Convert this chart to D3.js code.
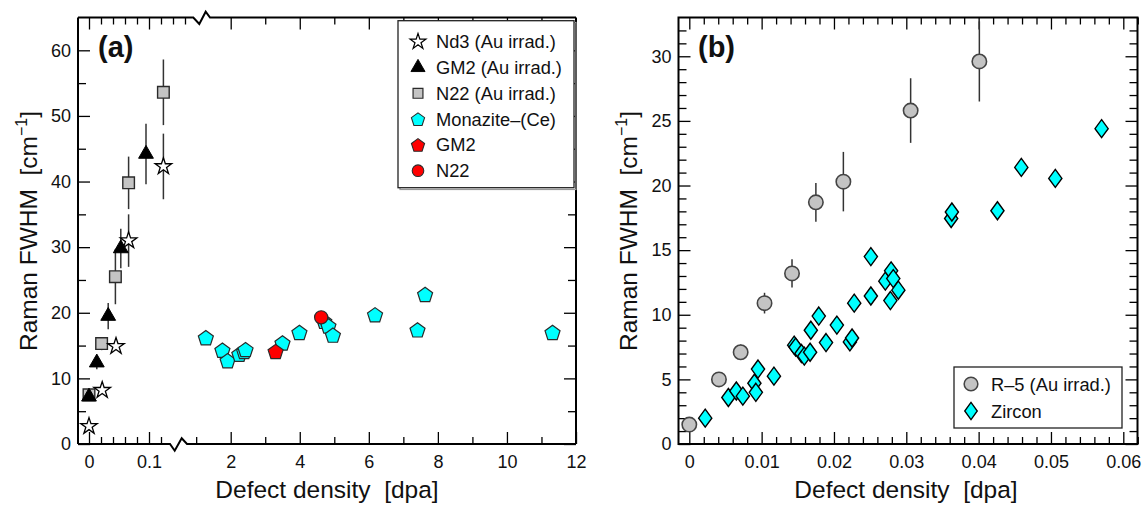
<!DOCTYPE html>
<html>
<head>
<meta charset="utf-8">
<script src="https://cdn.jsdelivr.net/npm/d3@7"></script>
<style>
  html, body { margin: 0; padding: 0; background: #fff; }
  svg { display: block; font-family: "Liberation Sans", Arial, Helvetica, sans-serif; }
  text { white-space: pre; }
</style>
</head>
<body>
<svg id="chart" width="1146" height="505"></svg>
<script>
// ---------- Panel (a): Raman FWHM vs defect density (monazite) ----------
// Au-irradiated series: x = dpa, y = FWHM (cm^-1), e = half-length of error bar
const nd3X = [0, 0.022, 0.045, 0.066, 0.124];
const nd3Y = [2.7, 8.2, 14.9, 31.0, 42.3];
const nd3E = [0, 0, 0, 4, 5];

const gm2IrrX = [0, 0.013, 0.032, 0.053, 0.095];
const gm2IrrY = [7.2, 12.4, 19.5, 29.8, 44.2];
const gm2IrrE = [0, 1, 2, 3, 4.6];

const n22IrrX = [0, 0.021, 0.044, 0.066, 0.124];
const n22IrrY = [7.5, 15.3, 25.5, 39.8, 53.6];
const n22IrrE = [0, 1, 4.2, 4, 5];

// Naturally damaged samples
const monaziteX = [1.28, 1.76, 1.91, 2.25, 2.39, 2.43, 3.50, 3.99, 4.71, 4.83, 4.96, 6.18, 7.41, 7.63, 11.32];
const monaziteY = [16.2, 14.3, 12.7, 13.7, 14.1, 14.4, 15.4, 17.0, 18.7, 18.0, 16.6, 19.7, 17.4, 22.8, 17.0];
const gm2NatX = [3.30];
const gm2NatY = [14.1];
const n22NatX = [4.62];
const n22NatY = [19.3];

// ---------- Panel (b): zircon ----------
const r5X = [0, 0.0041, 0.0071, 0.0104, 0.0142, 0.0175, 0.0213, 0.0306, 0.0401];
const r5Y = [1.5, 5.0, 7.1, 10.9, 13.2, 18.7, 20.3, 25.8, 29.6];
const r5E = [0, 0, 0.6, 0.8, 1.1, 1.5, 2.3, 2.5, 3.1];

const zirconX = [0.0022, 0.0054, 0.0065, 0.0074, 0.0090, 0.0092, 0.0095, 0.0117,
                 0.0145, 0.0147, 0.0155, 0.0159, 0.0167, 0.0168, 0.0179, 0.0189,
                 0.0204, 0.0222, 0.0225, 0.0228, 0.0251, 0.0251, 0.0271, 0.0279,
                 0.0282, 0.0278, 0.0289, 0.0362, 0.0363, 0.0426, 0.0459, 0.0506, 0.0570];
const zirconY = [2.0, 3.6, 4.1, 3.7, 4.7, 4.0, 5.8, 5.25,
                 7.65, 7.5, 7.0, 6.8, 7.1, 8.8, 9.9, 7.85,
                 9.2, 7.9, 8.2, 10.9, 14.5, 11.45, 12.6, 13.4,
                 12.8, 11.1, 11.9, 17.45, 17.95, 18.05, 21.4, 20.55, 24.4];

// ---------- Tick values and labels ----------
const aXTicksLow = [0, 0.1];
const aXTickLabelsLow = ["0", "0.1"];
const aXTicksHigh = [2, 4, 6, 8, 10, 12];
const aXTickLabelsHigh = ["2", "4", "6", "8", "10", "12"];
const aYTicks = [0, 10, 20, 30, 40, 50, 60];
const aYTickLabels = ["0", "10", "20", "30", "40", "50", "60"];
const bXTicks = [0, 0.01, 0.02, 0.03, 0.04, 0.05, 0.06];
const bXTickLabels = ["0", "0.01", "0.02", "0.03", "0.04", "0.05", "0.06"];
const bYTicks = [0, 5, 10, 15, 20, 25, 30];
const bYTickLabels = ["0", "5", "10", "15", "20", "25", "30"];

const legendA = ["Nd3 (Au irrad.)", "GM2 (Au irrad.)", "N22 (Au irrad.)", "Monazite\u2013(Ce)", "GM2", "N22"];
const legendB = ["R\u20135 (Au irrad.)", "Zircon"];
const yTitle = "Raman FWHM  [cm";
const xTitle = "Defect density  [dpa]";

// ---------- Layout ----------
const PA = { left: 78, right: 576, top: 17.5, bottom: 444 };
const PB = { left: 678.5, right: 1137.5, top: 17.5, bottom: 444 };
const MAJOR = 12, MINOR = 7;
const TICK_FONT = 18, TITLE_FONT = 24.5, LEGEND_FONT = 18.3;

const CYAN = "#00ffff", GRAY = "#c4c4c4", RED = "#ff0000", EDGE = "#2a2a2a";

const svg = d3.select("#chart");

// Scales (panel (a) uses a broken x axis: linear low-dose part + 0..12 part)
const xaLow = d3.scaleLinear().domain([0, 0.1]).range([89, 149]);
const xaHigh = d3.scaleLinear().domain([2, 12]).range([230.7, PA.right]);
const ya = d3.scaleLinear().domain([0, 65]).range([PA.bottom, PA.top]);
const xb = d3.scaleLinear().domain([0, 0.06]).range([689.3, 1123.3]);
const yb = d3.scaleLinear().domain([0, 33]).range([PB.bottom, PB.top]);

// ---------- Marker shapes ----------
function pentagonPath(r) {
  const pts = d3.range(5).map(k => {
    const a = -Math.PI / 2 + k * 2 * Math.PI / 5;
    return [r * Math.cos(a), r * Math.sin(a) + r * 0.1];
  });
  return "M" + pts.map(p => p[0].toFixed(2) + "," + p[1].toFixed(2)).join("L") + "Z";
}
const shapes = {
  star: d3.symbol(d3.symbolStar, 85)(),
  triangle: d3.symbol(d3.symbolTriangle, 95)(),
  square: d3.symbol(d3.symbolSquare, 135)(),
  pentagon: pentagonPath(7.9),
  circleA: d3.symbol(d3.symbolCircle, Math.PI * 6.6 * 6.6)(),
  circleB: d3.symbol(d3.symbolCircle, Math.PI * 7.2 * 7.2)(),
  diamond: "M0,-9L6.6,0L0,9L-6.6,0Z"
};
const styles = {
  nd3: { d: shapes.star, fill: "#fff", stroke: "#000", sw: 1.3 },
  gm2Irr: { d: shapes.triangle, fill: "#000", stroke: "#000", sw: 1 },
  n22Irr: { d: shapes.square, fill: GRAY, stroke: EDGE, sw: 1.4 },
  monazite: { d: shapes.pentagon, fill: CYAN, stroke: EDGE, sw: 1.2 },
  gm2Nat: { d: shapes.pentagon, fill: RED, stroke: EDGE, sw: 1.2 },
  n22Nat: { d: shapes.circleA, fill: RED, stroke: EDGE, sw: 1.2 },
  r5: { d: shapes.circleB, fill: GRAY, stroke: "#444", sw: 1.6 },
  zircon: { d: shapes.diamond, fill: CYAN, stroke: "#000", sw: 1.4 }
};

function zip(xs, ys, es) { return xs.map((x, i) => ({ x, y: ys[i], e: es ? es[i] : 0 })); }

function drawErrors(g, data, sx, sy) {
  g.selectAll(null).data(data.filter(d => d.e > 0)).enter().append("line")
    .attr("x1", d => sx(d.x)).attr("x2", d => sx(d.x))
    .attr("y1", d => sy(d.y - d.e)).attr("y2", d => sy(d.y + d.e))
    .attr("stroke", "#333").attr("stroke-width", 1.5);
}
function drawMarkers(g, data, sx, sy, st) {
  g.selectAll(null).data(data).enter().append("path")
    .attr("d", st.d)
    .attr("transform", d => `translate(${sx(d.x)},${sy(d.y)})`)
    .attr("fill", st.fill).attr("stroke", st.stroke).attr("stroke-width", st.sw)
    .attr("stroke-linejoin", "miter");
}

// ---------- Axis helpers (inward ticks, no domain line) ----------
function tickAxis(g, axisFn, scale, values, size, labels, pad) {
  const ax = axisFn(scale).tickValues(values).tickSize(-size).tickPadding(pad || 0)
    .tickFormat(labels ? ((d, i) => labels[i]) : () => "");
  g.call(ax);
  g.select(".domain").remove();
  g.selectAll(".tick line").attr("stroke", "#000").attr("stroke-width", 1.3);
  g.selectAll(".tick text").attr("fill", "#111").style("font-size", TICK_FONT + "px")
    .style("font-family", "'Liberation Sans', Arial, sans-serif");
}
function addAxis(parent, transform, axisFn, scale, values, size, labels, pad) {
  const g = parent.append("g").attr("transform", transform);
  tickAxis(g, axisFn, scale, values, size, labels, pad);
  return g;
}

function yTitleText(x, y) {
  const t = svg.append("text")
    .attr("transform", `translate(${x},${y}) rotate(-90)`)
    .attr("text-anchor", "middle")
    .style("font-size", TITLE_FONT + "px").attr("fill", "#111");
  t.append("tspan").text(yTitle);
  t.append("tspan").attr("dy", -9.5).style("font-size", "16px").text("\u22121");
  t.append("tspan").attr("dy", 9.5).text("]");
}

// ================= Panel (a) =================
const ga = svg.append("g");

// frame with axis-break marks
const breakBot = [170, 187], breakTop = [193.3, 210];
ga.append("path")
  .attr("d",
    `M${PA.left},${PA.top}V${PA.bottom}` +
    `M${PA.right},${PA.top}V${PA.bottom}` +
    `M${PA.left},${PA.top}H${breakTop[0]}L${breakTop[0] + 6},${PA.top + 6.5}L${breakTop[0] + 12.4},${PA.top - 5.8}L${breakTop[1]},${PA.top}H${PA.right}` +
    `M${PA.left},${PA.bottom}H${breakBot[0]}L${breakBot[0] + 4.7},${PA.bottom + 6.7}L${breakBot[0] + 11.7},${PA.bottom - 5.7}L${breakBot[1]},${PA.bottom}H${PA.right}`)
  .attr("fill", "none").attr("stroke", "#000").attr("stroke-width", 2)
  .attr("stroke-linejoin", "miter");

// bottom ticks
addAxis(ga, `translate(0,${PA.bottom})`, d3.axisBottom, xaLow, aXTicksLow, MAJOR, aXTickLabelsLow, 11);
addAxis(ga, `translate(0,${PA.bottom})`, d3.axisBottom, xaLow, [0.02, 0.04, 0.06, 0.08, 0.12], MINOR);
addAxis(ga, `translate(0,${PA.bottom})`, d3.axisBottom, xaHigh, aXTicksHigh, MAJOR, aXTickLabelsHigh, 11);
addAxis(ga, `translate(0,${PA.bottom})`, d3.axisBottom, xaHigh, [1, 3, 5, 7, 9, 11], MINOR);
// top ticks
addAxis(ga, `translate(0,${PA.top})`, d3.axisTop, xaLow, aXTicksLow, MAJOR);
addAxis(ga, `translate(0,${PA.top})`, d3.axisTop, xaLow, [0.02, 0.04, 0.06, 0.08, 0.12, 0.14, 0.16], MINOR);
addAxis(ga, `translate(0,${PA.top})`, d3.axisTop, xaHigh, aXTicksHigh.slice(0, 5), MAJOR);
addAxis(ga, `translate(0,${PA.top})`, d3.axisTop, xaHigh, [3, 5, 7, 9, 11], MINOR);
// left / right ticks
addAxis(ga, `translate(${PA.left},0)`, d3.axisLeft, ya, aYTicks, MAJOR, aYTickLabels, 7);
addAxis(ga, `translate(${PA.left},0)`, d3.axisLeft, ya, [5, 15, 25, 35, 45, 55], MINOR + 1);
addAxis(ga, `translate(${PA.right},0)`, d3.axisRight, ya, aYTicks, MAJOR);
addAxis(ga, `translate(${PA.right},0)`, d3.axisRight, ya, [5, 15, 25, 35, 45, 55], MINOR + 1);

// data
const xaPiece = v => (v < 0.5 ? xaLow(v) : xaHigh(v));
const nd3 = zip(nd3X, nd3Y, nd3E), gm2Irr = zip(gm2IrrX, gm2IrrY, gm2IrrE), n22Irr = zip(n22IrrX, n22IrrY, n22IrrE);
const pa = ga.append("g");
drawErrors(pa, n22Irr, xaPiece, ya);
drawErrors(pa, gm2Irr, xaPiece, ya);
drawErrors(pa, nd3, xaPiece, ya);
drawMarkers(pa, n22Irr, xaPiece, ya, styles.n22Irr);
drawMarkers(pa, gm2Irr, xaPiece, ya, styles.gm2Irr);
drawMarkers(pa, nd3, xaPiece, ya, styles.nd3);
drawMarkers(pa, zip(monaziteX, monaziteY), xaPiece, ya, styles.monazite);
drawMarkers(pa, zip(gm2NatX, gm2NatY), xaPiece, ya, styles.gm2Nat);
drawMarkers(pa, zip(n22NatX, n22NatY), xaPiece, ya, styles.n22Nat);

// panel letter
svg.append("text").attr("x", 98).attr("y", 57).style("font-size", "29px")
  .style("font-weight", "bold").attr("fill", "#111").text("(a)");

// legend (a)
const la = ga.append("g");
la.append("rect").attr("x", 400).attr("y", 22.5).attr("width", 176).attr("height", 167)
  .attr("fill", "none").attr("stroke", "#999").attr("stroke-width", 1.2);
la.append("rect").attr("x", 398).attr("y", 20.7).attr("width", 176).attr("height", 167)
  .attr("fill", "#fff").attr("stroke", "#222").attr("stroke-width", 1.3);
const legStylesA = [styles.nd3, styles.gm2Irr, styles.n22Irr, styles.monazite, styles.gm2Nat, styles.n22Nat];
const legScaleA = d3.scalePoint().domain(legendA).range([41.7, 170.7]);
legendA.forEach((name, i) => {
  const st = legStylesA[i];
  const y = legScaleA(name);
  const s = i === 2 ? 0.85 : (i >= 3 ? 0.88 : 0.95);
  la.append("path").attr("d", st.d).attr("transform", `translate(418,${y}) scale(${s})`)
    .attr("fill", st.fill).attr("stroke", st.stroke).attr("stroke-width", st.sw);
  la.append("text").attr("x", 436).attr("y", y + 6.5).style("font-size", LEGEND_FONT + "px")
    .attr("fill", "#111").text(name);
});

// titles
yTitleText(36.5, 231);
svg.append("text").attr("x", 327).attr("y", 498).attr("text-anchor", "middle")
  .style("font-size", TITLE_FONT + "px").attr("fill", "#111").text(xTitle);

// ================= Panel (b) =================
const gb = svg.append("g");
gb.append("rect").attr("x", PB.left).attr("y", PB.top)
  .attr("width", PB.right - PB.left).attr("height", PB.bottom - PB.top)
  .attr("fill", "none").attr("stroke", "#000").attr("stroke-width", 2);

const bXMinor = d3.range(1, 32).map(k => k * 0.002).filter((v, k) => (k + 1) % 5 !== 0);
const bYMinor = d3.range(1, 33).filter(v => v % 5 !== 0);
addAxis(gb, `translate(0,${PB.bottom})`, d3.axisBottom, xb, bXTicks, MAJOR, bXTickLabels, 11);
addAxis(gb, `translate(0,${PB.bottom})`, d3.axisBottom, xb, bXMinor, MINOR);
addAxis(gb, `translate(0,${PB.top})`, d3.axisTop, xb, bXTicks, MAJOR);
addAxis(gb, `translate(0,${PB.top})`, d3.axisTop, xb, bXMinor, MINOR);
addAxis(gb, `translate(${PB.left},0)`, d3.axisLeft, yb, bYTicks, MAJOR, bYTickLabels, 7);
addAxis(gb, `translate(${PB.left},0)`, d3.axisLeft, yb, bYMinor, MINOR + 1);
addAxis(gb, `translate(${PB.right},0)`, d3.axisRight, yb, bYTicks, MAJOR);
addAxis(gb, `translate(${PB.right},0)`, d3.axisRight, yb, bYMinor, MINOR + 1);

const r5 = zip(r5X, r5Y, r5E);
const pb = gb.append("g");
drawMarkers(pb, zip(zirconX, zirconY), xb, yb, styles.zircon);
drawErrors(pb, r5, xb, yb);
drawMarkers(pb, r5, xb, yb, styles.r5);

svg.append("text").attr("x", 698).attr("y", 57).style("font-size", "29px")
  .style("font-weight", "bold").attr("fill", "#111").text("(b)");

// legend (b)
const lb = gb.append("g");
lb.append("rect").attr("x", 954).attr("y", 367).attr("width", 168).attr("height", 61)
  .attr("fill", "#fff").attr("stroke", "#222").attr("stroke-width", 1.3);
const legStylesB = [styles.r5, styles.zircon];
const legScaleB = d3.scalePoint().domain(legendB).range([384, 411]);
legendB.forEach((name, i) => {
  const st = legStylesB[i];
  const y = legScaleB(name);
  lb.append("path").attr("d", st.d).attr("transform", `translate(971,${y}) scale(0.95)`)
    .attr("fill", st.fill).attr("stroke", st.stroke).attr("stroke-width", st.sw);
  lb.append("text").attr("x", 991).attr("y", y + 6.5).style("font-size", LEGEND_FONT + "px")
    .attr("fill", "#111").text(name);
});

yTitleText(636.7, 231);
svg.append("text").attr("x", 906).attr("y", 498).attr("text-anchor", "middle")
  .style("font-size", TITLE_FONT + "px").attr("fill", "#111").text(xTitle);
</script>
</body>
</html>
